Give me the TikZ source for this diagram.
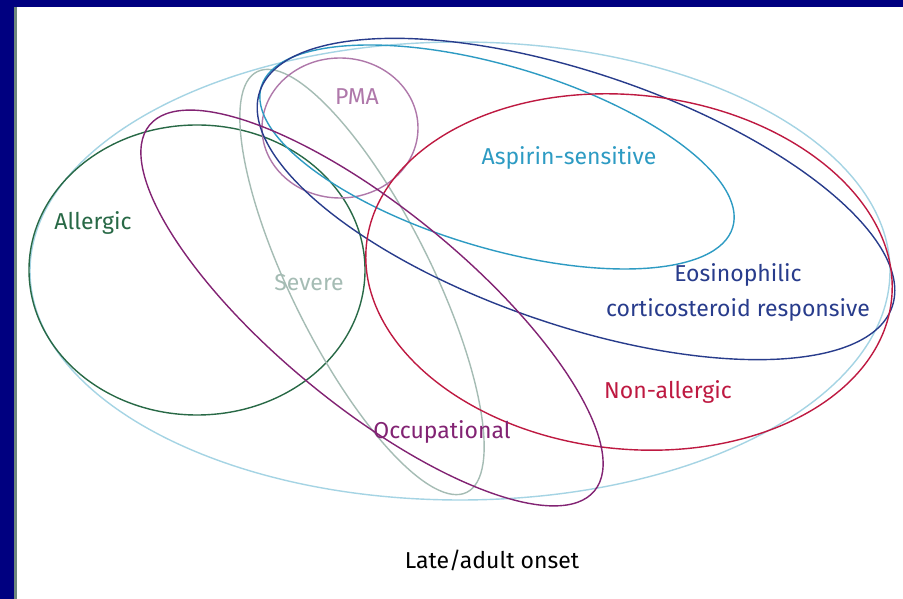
\documentclass[tikz,border=0pt]{standalone}
\usepackage{fontspec}
\setmainfont{Fira Sans}
\usetikzlibrary{positioning}
\definecolor{navyband}{RGB}{0,0,128}
\definecolor{edgegrey}{RGB}{110,135,125}
\definecolor{onsetblue}{RGB}{165,212,228}
\definecolor{allergicgreen}{RGB}{40,105,70}
\definecolor{severegrey}{RGB}{165,188,180}
\definecolor{pmamauve}{RGB}{175,120,170}
\definecolor{aspirinblue}{RGB}{45,155,195}
\definecolor{eosblue}{RGB}{40,60,140}
\definecolor{nonallred}{RGB}{190,25,65}
\definecolor{occpurple}{RGB}{130,35,115}

\begin{document}
\begin{tikzpicture}[x=1pt,y=1pt,
	lbl/.style={inner sep=0pt, font=\fontsize{23}{27}\selectfont},
	setline/.style={line width=1.4pt}]
	\useasboundingbox (0,0) rectangle (903,599);
	\fill[navyband] (0,0) rectangle (903,599);
	\fill[white] (14,0) rectangle (903,592);
	\fill[edgegrey] (14,0) rectangle (17,592);
	\draw[setline, onsetblue] (460,328) ellipse [x radius=430, y radius=229];
	\draw[setline, allergicgreen] (197,329) ellipse [x radius=168, y radius=145];
	\draw[setline, severegrey, rotate around={-63.5:(362,317)}] (362,317) ellipse [x radius=235, y radius=70];
	\draw[setline, pmamauve] (340,471) ellipse [x radius=78, y radius=70];
	\draw[setline, aspirinblue, rotate around={-16.6:(497,442)}] (497,442) ellipse [x radius=246, y radius=91];
	\draw[setline, eosblue, rotate around={-18.8:(576,400)}] (576,400) ellipse [x radius=334, y radius=126];
	\draw[setline, nonallred, rotate around={-6:(629,327)}] (629,327) ellipse [x radius=264, y radius=177];
	\draw[setline, occpurple, rotate around={-39.4:(372,291)}] (372,291) ellipse [x radius=288, y radius=98];
	\node[lbl, allergicgreen] (allergic) at (93,376) {Allergic};
	\node[lbl, severegrey] (severe) at (309,316) {Severe};
	\node[lbl, pmamauve] (pma) at (357,502) {PMA};
	\node[lbl, aspirinblue] (aspirin) at (569,441) {Aspirin-sensitive};
	\node[lbl, eosblue] (eos) at (738,324) {Eosinophilic};
	\node[lbl, eosblue, on grid, below=35pt of eos] (cort) {corticosteroid responsive};
	\node[lbl, nonallred] (nonall) at (668,207) {Non-allergic};
	\node[lbl, occpurple] (occ) at (442,167) {Occupational};
	\node[lbl, black] (onset) at (492,39) {Late/adult onset};
\end{tikzpicture}
\end{document}
